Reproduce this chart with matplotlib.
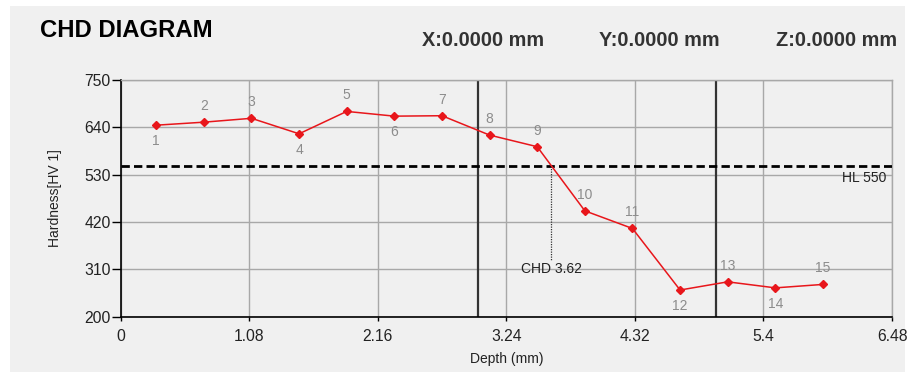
import matplotlib
matplotlib.use("Agg")
import matplotlib.pyplot as plt
from matplotlib.patches import Rectangle
import numpy as np

# Hardness traverse data
depth = [0.3, 0.7, 1.1, 1.5, 1.9, 2.3, 2.7, 3.1, 3.5, 3.9, 4.3, 4.7, 5.1, 5.5, 5.9]
hardness = [645, 652, 661, 625, 677, 666, 667, 622, 595, 446, 405, 262, 281, 267, 275]
point_ids = [str(i) for i in range(1, 16)]
label_above = [False, True, True, False, True, False, True, True, True, True, True,
               False, True, False, True]

hl_limit = 550
chd_value = 3.62
zone_marks = [3.0, 5.0]

x_ticks = [0, 1.08, 2.16, 3.24, 4.32, 5.4, 6.48]
x_tick_labels = ["0", "1.08", "2.16", "3.24", "4.32", "5.4", "6.48"]
y_ticks = [200, 310, 420, 530, 640, 750]

title = "CHD DIAGRAM"
coords = ["X:0.0000 mm", "Y:0.0000 mm", "Z:0.0000 mm"]

plt.rcParams['font.family'] = ['Liberation Sans', 'DejaVu Sans']

W, H = 913, 372
fig = plt.figure(figsize=(W / 100, H / 100), dpi=100, facecolor="white")
bg = "#F0F0F0"
fig.patches.append(Rectangle((10 / W, 0), (905 - 10) / W, (H - 6) / H,
                             transform=fig.transFigure, facecolor=bg,
                             edgecolor="none", zorder=-5))

ax_l, ax_r, ax_t, ax_b = 120.5, 892, 80, 316.7
ax = fig.add_axes([ax_l / W, (H - ax_b) / H, (ax_r - ax_l) / W, (ax_b - ax_t) / H])
ax.set_zorder(1)
ax.set_facecolor(bg)
ax.set_xlim(0, 6.48)
ax.set_ylim(200, 750)
ax.set_xticks(x_ticks)
ax.set_xticklabels(x_tick_labels)
ax.set_yticks(y_ticks)
ax.grid(True, color="#A8A8A8", linewidth=1.0)
ax.set_axisbelow(True)
for s in ["top", "right"]:
    ax.spines[s].set_color("#A8A8A8")
    ax.spines[s].set_linewidth(1.0)
for s in ["left", "bottom"]:
    ax.spines[s].set_color("black")
    ax.spines[s].set_linewidth(1.2)
ax.tick_params(axis="y", direction="out", length=6.5, width=1, color="black",
               labelsize=11.3, labelcolor="#222222", pad=0.5)
ax.tick_params(axis="x", direction="out", length=3, width=1, color="black",
               labelsize=11.3, labelcolor="#222222", pad=6)

ax.set_xlabel("Depth (mm)", fontsize=10, color="#222222")
ax.set_ylabel("Hardness[HV 1]", fontsize=10, color="#222222")
ax.yaxis.set_label_coords((61.5 - ax_l) / (ax_r - ax_l), 0.5)
ax.xaxis.set_label_coords(0.5, -(352 - ax_b) / (ax_b - ax_t))

# Zone boundaries
for zx in zone_marks:
    ax.axvline(zx, color="#333333", linewidth=1.6, zorder=2)

# Hardness limit
ax.axhline(hl_limit, color="black", linewidth=2.0, linestyle=(0, (3, 1.5)), zorder=3)
ax.text(6.43, hl_limit - 11, "HL 550", ha="right", va="top", fontsize=10, color="#222222")

# CHD marker
ax.plot([chd_value, chd_value], [hl_limit, 332], color="#333333", linewidth=0.9,
        linestyle=(0, (1, 1)), zorder=3)
ax.text(chd_value, 310, "CHD 3.62", ha="center", va="center", fontsize=10, color="#222222")

# Hardness profile
ax.plot(depth, hardness, color="#E8161B", linewidth=1.1, marker="D", markersize=4,
        markerfacecolor="#E8161B", markeredgecolor="#E8161B", zorder=4)
for x, y, t, up in zip(depth, hardness, point_ids, label_above):
    off = 16 if up else -16
    ax.annotate(t, (x, y), textcoords="offset pixels", xytext=(0, off),
                ha="center", va="center", fontsize=10, color="#8C8C8C")

fig.text(40 / W, 1 - 30.5 / H, title, ha="left", va="center", fontsize=17.2,
         fontweight="bold", color="black")
for xpos, t in zip([421.5, 598.5, 775.5], coords):
    fig.text(xpos / W, 1 - 41 / H, t, ha="left", va="center", fontsize=14.3,
             fontweight="bold", color="#333333")

fig.savefig("out.png", dpi=100, facecolor=fig.get_facecolor())
